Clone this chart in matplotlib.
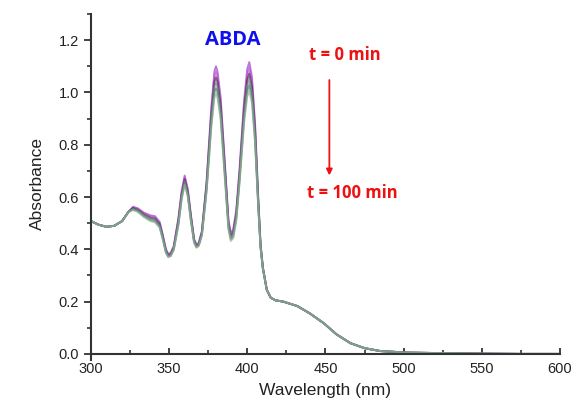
import numpy as np
import matplotlib.pyplot as plt
from matplotlib.ticker import MultipleLocator

# ---- data ----
# part that is the same for every curve
wl_head = [300, 305, 310, 315, 320, 324]
abs_head = [0.508, 0.494, 0.486, 0.490, 0.508, 0.543]

# band region, one list per irradiation time (min)
wl_band = [327, 330, 334, 338, 341, 344, 346, 348, 349.5, 351, 353, 356, 358, 360, 362,
           364, 366, 367.5, 369, 371, 374, 377, 379, 380, 381, 383, 386, 388, 389.5, 391,
           393, 395, 398, 400, 401.3, 403, 405, 407, 408.5, 410]
times = [0, 20, 40, 60, 80, 100]
band_t0 = [0.563, 0.557, 0.540, 0.530, 0.527, 0.505, 0.455, 0.400, 0.383, 0.386, 0.412, 0.520, 0.620, 0.682, 0.630,
           0.530, 0.440, 0.418, 0.425, 0.470, 0.660, 0.940, 1.080, 1.100, 1.080, 0.980, 0.700, 0.510, 0.463, 0.475,
           0.550, 0.700, 0.970, 1.090, 1.116, 1.060, 0.880, 0.600, 0.420, 0.330]
band_t20 = [0.560, 0.554, 0.537, 0.526, 0.522, 0.500, 0.451, 0.397, 0.380, 0.383, 0.409, 0.515, 0.614, 0.675, 0.624,
            0.526, 0.437, 0.416, 0.423, 0.466, 0.652, 0.925, 1.060, 1.079, 1.060, 0.963, 0.689, 0.503, 0.457, 0.469,
            0.542, 0.690, 0.953, 1.069, 1.094, 1.040, 0.865, 0.593, 0.417, 0.329]
band_t40 = [0.558, 0.551, 0.533, 0.521, 0.517, 0.496, 0.448, 0.394, 0.377, 0.380, 0.406, 0.509, 0.607, 0.668, 0.618,
            0.521, 0.434, 0.413, 0.420, 0.463, 0.644, 0.910, 1.040, 1.058, 1.040, 0.946, 0.678, 0.496, 0.451, 0.462,
            0.534, 0.679, 0.936, 1.048, 1.072, 1.020, 0.850, 0.585, 0.414, 0.328]
band_t60 = [0.555, 0.549, 0.530, 0.517, 0.513, 0.491, 0.444, 0.392, 0.375, 0.378, 0.403, 0.503, 0.601, 0.661, 0.612,
            0.516, 0.431, 0.411, 0.418, 0.459, 0.636, 0.895, 1.020, 1.037, 1.020, 0.929, 0.667, 0.489, 0.444, 0.456,
            0.526, 0.669, 0.919, 1.027, 1.050, 1.000, 0.835, 0.578, 0.411, 0.327]
band_t80 = [0.553, 0.546, 0.526, 0.512, 0.508, 0.487, 0.441, 0.389, 0.372, 0.375, 0.400, 0.497, 0.594, 0.654, 0.606,
            0.511, 0.428, 0.408, 0.415, 0.456, 0.628, 0.880, 1.000, 1.016, 1.000, 0.912, 0.656, 0.482, 0.438, 0.449,
            0.518, 0.658, 0.902, 1.006, 1.028, 0.980, 0.820, 0.570, 0.408, 0.326]
band_t100 = [0.550, 0.543, 0.523, 0.508, 0.503, 0.482, 0.437, 0.386, 0.370, 0.373, 0.397, 0.492, 0.588, 0.648, 0.600,
             0.506, 0.425, 0.406, 0.413, 0.452, 0.620, 0.865, 0.980, 0.995, 0.980, 0.895, 0.645, 0.475, 0.432, 0.443,
             0.510, 0.648, 0.885, 0.985, 1.006, 0.960, 0.805, 0.563, 0.405, 0.325]
bands = [band_t0, band_t20, band_t40, band_t60, band_t80, band_t100]

# tail, same for every curve
wl_tail = [412.5, 415, 418, 423, 432, 440, 449, 457, 466, 475, 485, 502, 524, 550, 575, 600]
abs_tail = [0.245, 0.215, 0.205, 0.200, 0.183, 0.155, 0.117, 0.075, 0.041, 0.022, 0.011,
            0.005, 0.003, 0.001, 0.0, 0.0]

colors = ['#9a3fd0', '#c24fc4', '#4a2a5a', '#7a7f80', '#3e8a66', '#95ad98']

plt.rcParams['font.family'] = ['Liberation Sans', 'DejaVu Sans']

fig = plt.figure(figsize=(5.75, 4.12), dpi=100)
ax = fig.add_axes([0.158, 0.141, 0.816, 0.825])

wl = np.array(wl_head + wl_band + wl_tail)
for band, c in zip(bands, colors):
    ab = np.array(abs_head + band + abs_tail)
    ax.plot(wl, ab, color=c, lw=1.4, alpha=0.7, solid_joinstyle='round')

ax.set_xlim(300, 600)
ax.set_ylim(0, 1.3)
ax.xaxis.set_major_locator(MultipleLocator(50))
ax.xaxis.set_minor_locator(MultipleLocator(25))
ax.yaxis.set_major_locator(MultipleLocator(0.2))
ax.yaxis.set_minor_locator(MultipleLocator(0.1))
ax.yaxis.set_major_formatter(plt.FormatStrFormatter('%.1f'))

for s in ['top', 'right']:
    ax.spines[s].set_visible(False)
for s in ['left', 'bottom']:
    ax.spines[s].set_color('#333333')
    ax.spines[s].set_linewidth(1.5)
ax.spines['left'].set_bounds(-0.025, 1.3)

ax.tick_params(axis='y', which='major', direction='out', length=5, width=1.3,
               color='#333333', labelsize=10.5, labelcolor='#222222')
ax.tick_params(axis='y', which='minor', direction='out', length=3, width=1.2, color='#333333')
ax.tick_params(axis='x', which='major', direction='in', length=4, width=1.3,
               color='#333333', labelsize=10.5, labelcolor='#222222', pad=6)
ax.tick_params(axis='x', which='minor', direction='in', length=3, width=1.2, color='#333333')

ax.set_xlabel('Wavelength (nm)', fontsize=12.5, color='#222222', labelpad=5)
ax.set_ylabel('Absorbance', fontsize=12.5, color='#222222', labelpad=10)

ax.text(390.5, 1.20, 'ABDA', color='#1010ee', fontsize=14.5, fontweight='bold',
        family=['Open Sans', 'DejaVu Sans'], ha='center', va='center')
ax.text(462.5, 1.143, 't = 0 min', color='#ee1111', fontsize=12, fontweight='bold',
        family=['Open Sans', 'DejaVu Sans'], ha='center', va='center')
ax.text(467, 0.615, 't = 100 min', color='#ee1111', fontsize=12, fontweight='bold',
        family=['Open Sans', 'DejaVu Sans'], ha='center', va='center')
ax.annotate('', xy=(452.5, 0.672), xytext=(452.5, 1.058),
            arrowprops=dict(arrowstyle='-|>', color='#ee1111', lw=1.3, mutation_scale=9))

fig.savefig('out.png', dpi=100)
